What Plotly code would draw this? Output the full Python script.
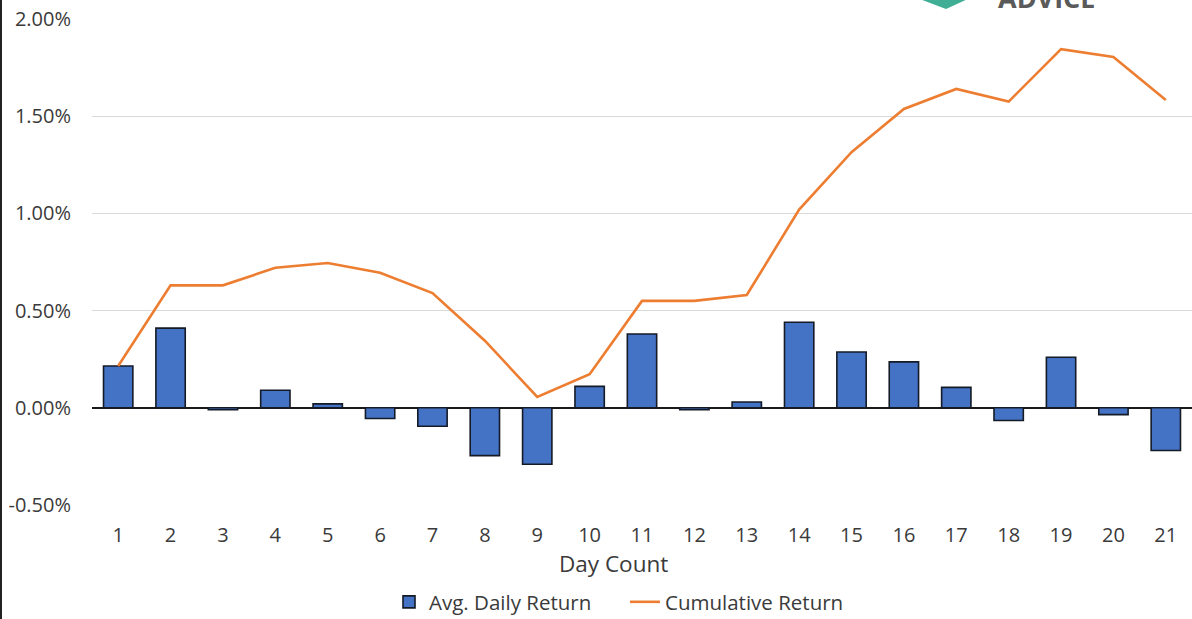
import plotly.graph_objects as go

days = list(range(1, 22))
day_labels = [str(d) for d in days]
avg_daily_return = [0.215, 0.41, -0.01, 0.09, 0.02, -0.055, -0.095, -0.246, -0.29, 0.11,
                    0.38, -0.01, 0.03, 0.44, 0.287, 0.236, 0.105, -0.065, 0.26, -0.035, -0.22]
cumulative_return = [0.215, 0.63, 0.63, 0.72, 0.745, 0.695, 0.59, 0.345, 0.056, 0.173,
                     0.55, 0.55, 0.58, 1.02, 1.315, 1.537, 1.64, 1.575, 1.845, 1.805, 1.583]
y_ticks = [-0.5, 0.0, 0.5, 1.0, 1.5, 2.0]
y_tick_labels = ["-0.50%", "0.00%", "0.50%", "1.00%", "1.50%", "2.00%"]

W, H = 1192, 619
ML, MR, MT, MB = 92, 0, 19, 114
PW, PH = W - ML - MR, H - MT - MB


def px(x):
    return (x - ML) / PW


def py(y):
    return (H - MB - y) / PH


FONT = "Open Sans"
TXT = "#3a3a3a"

fig = go.Figure()
fig.add_trace(go.Bar(
    x=days, y=avg_daily_return, name="Avg. Daily Return",
    marker=dict(color="#4472C4", line=dict(color="#141a26", width=1.6)),
    width=0.56,
))
fig.add_trace(go.Scatter(
    x=days, y=cumulative_return, name="Cumulative Return", mode="lines",
    line=dict(color="#ED7D31", width=2.6),
))

fig.update_layout(
    width=W, height=H,
    margin=dict(l=ML, r=MR, t=MT, b=MB, pad=0, autoexpand=False),
    paper_bgcolor="white", plot_bgcolor="white",
    font=dict(family=FONT, size=20, color=TXT),
    showlegend=True,
    legend=dict(orientation="h", x=px(389), xanchor="left", y=py(602), yanchor="middle",
                font=dict(size=20.5, color=TXT), itemwidth=30, tracegroupgap=0,
                entrywidth=191, entrywidthmode="pixels",
                bgcolor="rgba(0,0,0,0)"),
)
fig.update_xaxes(
    range=[0.5, 21.5], tickmode="array", tickvals=days, ticktext=day_labels,
    showgrid=False, showline=False, zeroline=False, ticks="", automargin=False,
    ticklabelstandoff=16, tickfont=dict(size=20, color=TXT),
)
fig.update_yaxes(
    range=[-0.5, 2.0], tickmode="array", tickvals=y_ticks, ticktext=y_tick_labels,
    showgrid=True, gridcolor="#D9D9D9", gridwidth=1.2, automargin=False,
    zeroline=True, zerolinecolor="#1a1a1a", zerolinewidth=1.6,
    showline=False, ticks="", ticklabelstandoff=20, tickfont=dict(size=20, color=TXT),
)

fig.add_annotation(text="Day Count", xref="paper", yref="paper", x=px(613), y=py(563),
                   xanchor="center", yanchor="middle", showarrow=False,
                   font=dict(size=22.5, color=TXT, family=FONT))

# partial logo at top (cropped)
fig.add_annotation(text="<b>ADVICE</b>", xref="paper", yref="paper", x=px(1046), y=py(-3),
                   xanchor="center", yanchor="middle", showarrow=False,
                   font=dict(size=27, color="#5a5a5a", family=FONT))
fig.add_shape(type="path", xref="paper", yref="paper",
              path=f"M {px(917)} {py(-2)} L {px(970)} {py(-2)} L {px(946)} {py(9)} Z",
              fillcolor="#3fae95", line=dict(width=0), layer="above")
# left border of the cropped chart frame
fig.add_shape(type="line", xref="paper", yref="paper", x0=px(1), x1=px(1), y0=py(0), y1=py(H),
              line=dict(color="#222", width=2))

fig.write_html("out.html", config={"displayModeBar": False},
               post_script="document.body.style.margin='0';document.body.style.overflow='hidden';")
